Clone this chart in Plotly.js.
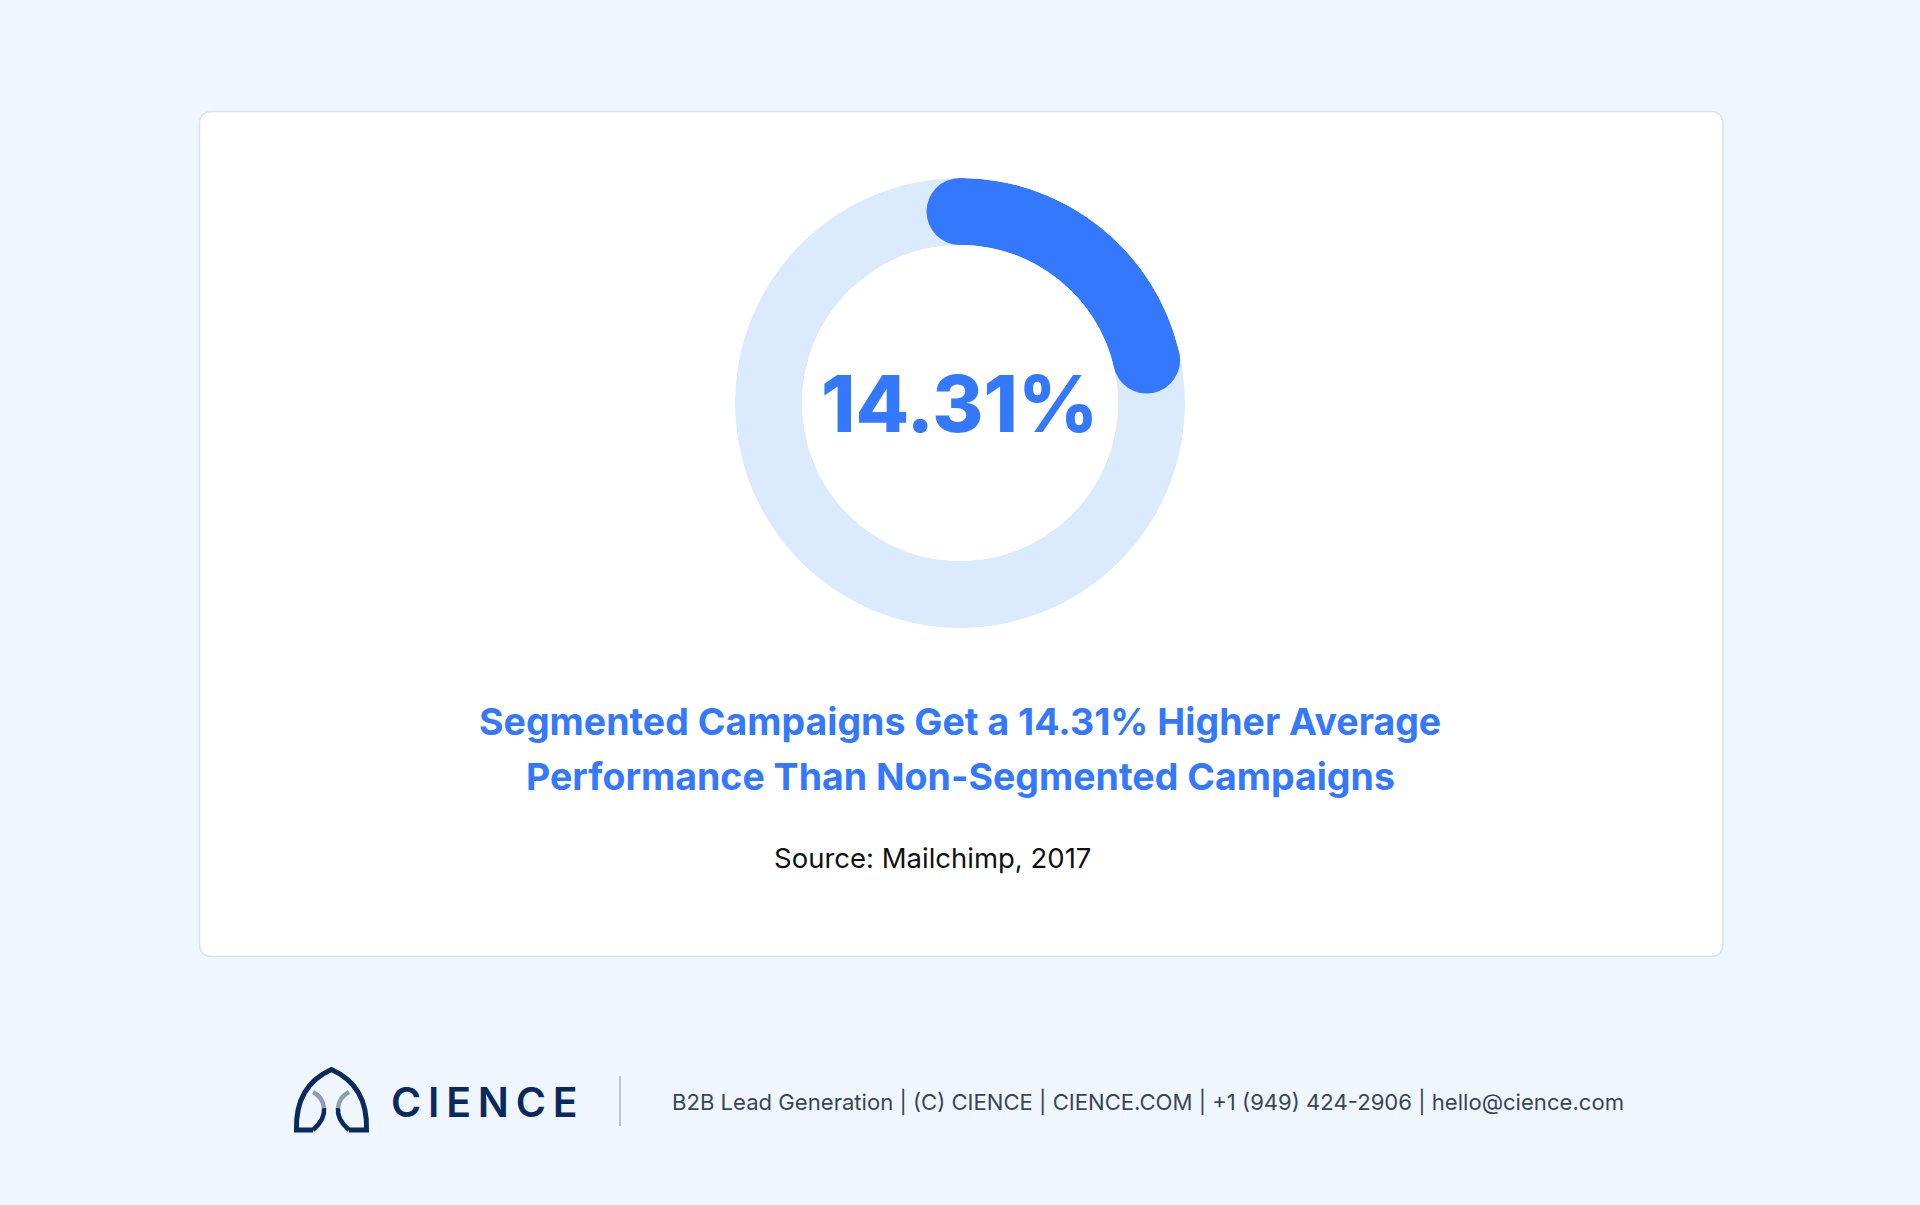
<!DOCTYPE html>
<html>
<head>
<meta charset="utf-8">
<script src="https://cdn.plot.ly/plotly-3.0.1.min.js"></script>
<style>
  html, body { margin: 0; padding: 0; background: #eff6fe; }
  #chart { width: 1920px; height: 1205px; }
</style>
</head>
<body>
<div id="chart"></div>
<script>
// ---- data ----
const ringSegments = ['Highlighted arc', 'Remainder'];
const ringShares = [21.4, 78.6];          // share of the ring as drawn (percent of circle)
const headlineValue = [14.31];            // figure shown in the centre
const titleLines = [
  'Segmented Campaigns Get a 14.31% Higher Average',
  'Performance Than Non-Segmented Campaigns'
];
const sourceText = ['Source: Mailchimp, 2017'];
const brandName = ['CIENCE'];
const footerText = ['B2B Lead Generation | (C) CIENCE | CIENCE.COM | +1 (949) 424-2906 | hello@cience.com'];

// ---- colours ----
const BLUE = '#3478fe';
const LIGHT = '#dceafd';
const NAVY = '#0a2a5e';

// ring geometry via cumulative shares on the angular axis (degrees)
const degPerPct = 360 / 100;
let cum = 0;
const barTheta = [], barWidth = [];
ringShares.forEach(s => { barTheta.push((cum + s / 2) * degPerPct); barWidth.push(s * degPerPct); cum += s; });
const capTheta = [0, ringShares[0] * degPerPct];

const traces = [
  {
    type: 'barpolar',
    name: 'ring',
    r: ringShares.map(() => 1),
    theta: barTheta,
    width: barWidth,
    text: ringSegments,
    marker: { color: [BLUE, LIGHT], line: { width: 0 } },
    hoverinfo: 'skip',
    subplot: 'polar'
  },
  {
    type: 'scatterpolar',
    mode: 'markers',
    r: [0.5, 0.5],
    theta: capTheta,
    marker: { size: 67, color: BLUE, line: { width: 0 } },
    hoverinfo: 'skip',
    subplot: 'polar'
  },
  {
    type: 'scatter', x: [0], y: [0], mode: 'markers',
    marker: { opacity: 0 }, hoverinfo: 'skip', xaxis: 'x', yaxis: 'y'
  }
];

function roundRect(x0, y0, x1, y1, r) {
  return `M ${x0 + r},${y0} L ${x1 - r},${y0} Q ${x1},${y0} ${x1},${y0 + r} L ${x1},${y1 - r} Q ${x1},${y1} ${x1 - r},${y1} L ${x0 + r},${y1} Q ${x0},${y1} ${x0},${y1 - r} L ${x0},${y0 + r} Q ${x0},${y0} ${x0 + r},${y0} Z`;
}

const shapes = [
  { type: 'path', layer: 'below', xref: 'x', yref: 'y', path: roundRect(199.5, 111.5, 1723, 956.5, 13),
    fillcolor: '#ffffff', line: { color: '#d8e2f0', width: 1.5 } },
  // logo outer arch
  { type: 'path', xref: 'x', yref: 'y',
    path: 'M 313,1130 L 296.5,1130 C 295.5,1100 308,1080 331.5,1069.5 C 355,1080 367.5,1100 366.5,1130 L 349,1130',
    line: { color: NAVY, width: 5 }, fillcolor: 'rgba(0,0,0,0)' },
  // inner left curve (lower navy, upper faded)
  { type: 'path', xref: 'x', yref: 'y', path: 'M 313,1130 C 320,1124 325,1117 324,1108',
    line: { color: NAVY, width: 4.5 }, fillcolor: 'rgba(0,0,0,0)' },
  { type: 'path', xref: 'x', yref: 'y', path: 'M 324,1108 C 323,1100 319,1095 313,1092',
    line: { color: '#8e9db5', width: 4.5 }, fillcolor: 'rgba(0,0,0,0)' },
  // inner right curve
  { type: 'path', xref: 'x', yref: 'y', path: 'M 349,1130 C 342,1124 337,1117 338,1108',
    line: { color: NAVY, width: 4.5 }, fillcolor: 'rgba(0,0,0,0)' },
  { type: 'path', xref: 'x', yref: 'y', path: 'M 338,1108 C 339,1100 343,1095 349,1092',
    line: { color: '#8e9db5', width: 4.5 }, fillcolor: 'rgba(0,0,0,0)' },
  // divider
  { type: 'line', xref: 'x', yref: 'y', x0: 620, x1: 620, y0: 1076, y1: 1126,
    line: { color: '#a8b2c0', width: 1.5 } }
];

const annotations = [
  { xref: 'x', yref: 'y', x: 959, y: 403, text: headlineValue[0].toFixed(2) + '%', showarrow: false,
    font: { family: 'Inter, Roboto, sans-serif', size: 78, weight: 800, color: BLUE }, xanchor: 'center', yanchor: 'middle' },
  { xref: 'x', yref: 'y', x: 960, y: 721, text: titleLines[0], showarrow: false,
    font: { family: 'Inter, Roboto, sans-serif', size: 37.5, weight: 700, color: BLUE }, xanchor: 'center', yanchor: 'middle' },
  { xref: 'x', yref: 'y', x: 960, y: 776, text: titleLines[1], showarrow: false,
    font: { family: 'Inter, Roboto, sans-serif', size: 37.5, weight: 700, color: BLUE }, xanchor: 'center', yanchor: 'middle' },
  { xref: 'x', yref: 'y', x: 932, y: 858, text: sourceText[0], showarrow: false,
    font: { family: 'Inter, Roboto, sans-serif', size: 27.5, weight: 400, color: '#111111' }, xanchor: 'center', yanchor: 'middle' },
  { xref: 'x', yref: 'y', x: 389, y: 1102, text: brandName[0].split('').join('\u2009'), showarrow: false,
    font: { family: 'Inter, Roboto, sans-serif', size: 41, weight: 600, color: NAVY }, xanchor: 'left', yanchor: 'middle' },
  { xref: 'x', yref: 'y', x: 670, y: 1101, text: footerText[0], showarrow: false,
    font: { family: 'Inter, Roboto, sans-serif', size: 22.1, weight: 400, color: '#3a4556' }, xanchor: 'left', yanchor: 'middle' }
];

const layout = {
  width: 1920, height: 1205,
  margin: { l: 0, r: 0, t: 0, b: 0, pad: 0 },
  paper_bgcolor: '#eff6fe',
  plot_bgcolor: 'rgba(0,0,0,0)',
  showlegend: false,
  xaxis: { range: [0, 1920], visible: false, fixedrange: true, domain: [0, 1] },
  yaxis: { range: [1205, 0], visible: false, fixedrange: true, domain: [0, 1] },
  polar: {
    domain: { x: [735 / 1920, 1185 / 1920], y: [577 / 1205, 1027 / 1205] },
    hole: 158 / 225,
    bgcolor: 'rgba(0,0,0,0)',
    bargap: 0,
    radialaxis: { range: [0, 1], visible: false, showgrid: false, showline: false, showticklabels: false, ticks: '' },
    angularaxis: { rotation: 90, direction: 'clockwise', visible: false, showgrid: false, showline: false, showticklabels: false, ticks: '' }
  },
  shapes: shapes,
  annotations: annotations
};

Plotly.newPlot('chart', traces, layout, { displayModeBar: false, staticPlot: true });
</script>
</body>
</html>
